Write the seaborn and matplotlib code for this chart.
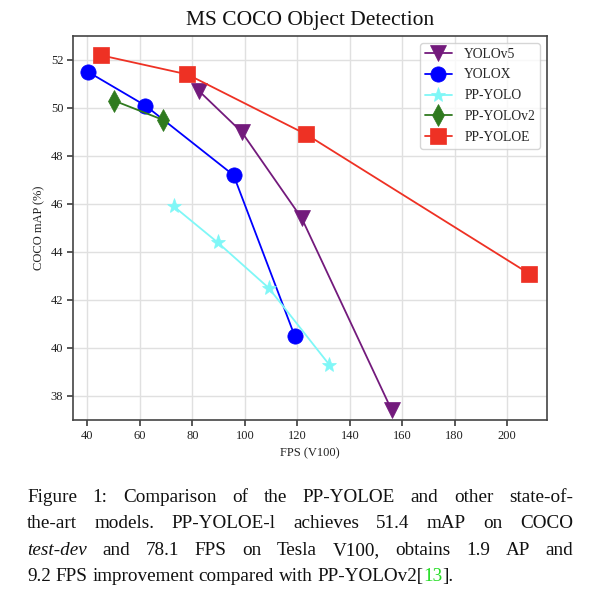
import matplotlib
matplotlib.use("Agg")
import matplotlib.pyplot as plt
import seaborn as sns
import pandas as pd

models = ["YOLOv5", "YOLOX", "PP-YOLO", "PP-YOLOv2", "PP-YOLOE"]
yolov5_fps = [82.6, 98.8, 121.7, 156.0]
yolov5_map = [50.7, 49.0, 45.4, 37.4]
yolox_fps = [40.3, 62.1, 95.7, 119.0]
yolox_map = [51.5, 50.1, 47.2, 40.5]
ppyolo_fps = [72.9, 89.6, 109.1, 132.2]
ppyolo_map = [45.9, 44.4, 42.5, 39.3]
ppyolov2_fps = [50.3, 68.9]
ppyolov2_map = [50.3, 49.5]
ppyoloe_fps = [45.0, 78.1, 123.4, 208.3]
ppyoloe_map = [52.2, 51.4, 48.9, 43.1]
xticks = [40, 60, 80, 100, 120, 140, 160, 180, 200]
yticks = [38, 40, 42, 44, 46, 48, 50, 52]

series = {
    "YOLOv5": (yolov5_fps, yolov5_map),
    "YOLOX": (yolox_fps, yolox_map),
    "PP-YOLO": (ppyolo_fps, ppyolo_map),
    "PP-YOLOv2": (ppyolov2_fps, ppyolov2_map),
    "PP-YOLOE": (ppyoloe_fps, ppyoloe_map),
}
rows = []
for m in models:
    f, a = series[m]
    for i, (x, y) in enumerate(zip(f, a)):
        rows.append({"model": m, "fps": x, "map": y, "idx": i})
df = pd.DataFrame(rows)

palette = {"YOLOv5": "#731a7c", "YOLOX": "#0000ff", "PP-YOLO": "#7ff7f7",
           "PP-YOLOv2": "#2f7a1f", "PP-YOLOE": "#ee3124"}
markers = {"YOLOv5": "v", "YOLOX": "o", "PP-YOLO": "*", "PP-YOLOv2": "d", "PP-YOLOE": "s"}

sns.set_theme(style="whitegrid")
plt.rcParams["font.family"] = ["Liberation Serif", "DejaVu Serif"]
plt.rcParams.update({
    "axes.edgecolor": "#444444", "axes.linewidth": 1.2,
    "grid.color": "#e0e0e0", "grid.linewidth": 1.0,
    "xtick.bottom": True, "ytick.left": True,
    "xtick.major.size": 4, "ytick.major.size": 4,
    "xtick.color": "#444444", "ytick.color": "#444444",
    "xtick.labelcolor": "#222222", "ytick.labelcolor": "#222222",
})

fig = plt.figure(figsize=(6.0, 5.97), dpi=100)
ax = fig.add_axes([0.1217, 0.2965, 0.7893, 0.6432])

sns.lineplot(data=df, x="fps", y="map", hue="model", style="model",
             hue_order=models, style_order=models, palette=palette,
             markers=markers, dashes=False, sort=False, estimator=None,
             units="model", markersize=11, markeredgewidth=0.5, linewidth=1.3, ax=ax)
for line in ax.lines:
    line.set_markeredgecolor(line.get_color())

ax.set_xlim(34.5, 215)
ax.set_ylim(37, 53)
ax.set_xticks(xticks)
ax.set_yticks(yticks)
ax.tick_params(labelsize=9, pad=3)
ax.set_xlabel("FPS (V100)", fontsize=9, color="#222222")
ax.set_ylabel("COCO mAP (%)", fontsize=9, color="#222222")
ax.set_title("MS COCO Object Detection", fontsize=15.5, color="#111111", pad=8)

leg = ax.legend(loc="upper right", fontsize=9.8, frameon=True, markerscale=1.0,
                handlelength=2.0, handletextpad=0.9, borderpad=0.35,
                labelspacing=0.58, borderaxespad=0.5)
leg.get_frame().set_edgecolor("#cccccc")
leg.get_frame().set_linewidth(1.0)
for h in leg.legend_handles:
    h.set_markeredgecolor(h.get_color())

# caption (justified)
lines = [
    [("Figure 1: Comparison of the PP-YOLOE and other state-of-", "normal", "#111111")],
    [("the-art models. PP-YOLOE-l achieves 51.4 mAP on COCO", "normal", "#111111")],
    [("test-dev", "italic", "#111111"), ("and 78.1 FPS on Tesla V100, obtains 1.9 AP and", "normal", "#111111")],
]
last = [("9.2", "normal", "#111111"), ("FPS", "normal", "#111111"), ("improvement", "normal", "#111111"),
        ("compared", "normal", "#111111"), ("with", "normal", "#111111"),
        ("PP-YOLOv2[", "normal", "#111111"), ("13", "normal", "#22dd22"), ("].", "normal", "#111111")]
fs = 13.8
x0, x1 = 27 / 600, 573 / 600
ys = [1 - 502 / 597, 1 - 528 / 597, 1 - 555 / 597, 1 - 581 / 597]
fig.canvas.draw()
r = fig.canvas.get_renderer()

def words_of(spec):
    out = []
    for txt, st, col in spec:
        for w in txt.split(" "):
            out.append((w, st, col))
    return out

for li, spec in enumerate(lines):
    ws = words_of(spec)
    objs = [fig.text(0, ys[li], w, fontsize=fs, style=st, color=col, va="baseline") for w, st, col in ws]
    widths = [o.get_window_extent(r).width / fig.bbox.width for o in objs]
    gap = (x1 - x0 - sum(widths)) / (len(objs) - 1)
    x = x0
    for o, w in zip(objs, widths):
        o.set_x(x)
        x += w + gap

# last line: natural spacing
sp = fig.text(0, 0, "a b", fontsize=fs)
sp2 = fig.text(0, 0, "ab", fontsize=fs)
space = (sp.get_window_extent(r).width - sp2.get_window_extent(r).width) / fig.bbox.width
sp.remove(); sp2.remove()
x = x0
for i, (w, st, col) in enumerate(last):
    o = fig.text(x, ys[3], w, fontsize=fs, style=st, color=col, va="baseline")
    x += o.get_window_extent(r).width / fig.bbox.width
    if i < 5:
        x += space

fig.savefig("out.png", dpi=100)
